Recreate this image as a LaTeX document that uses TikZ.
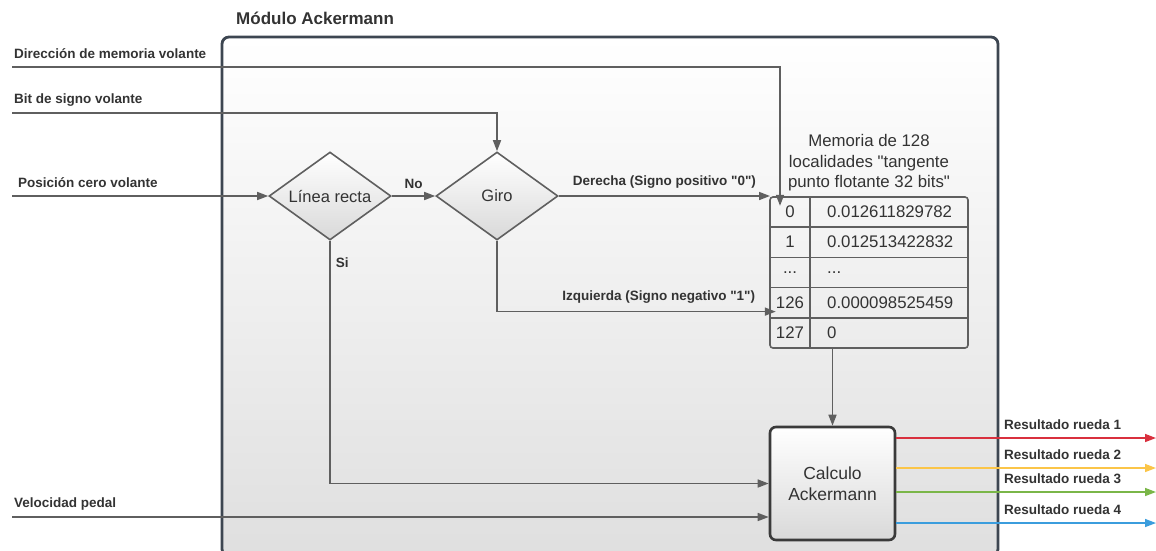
\documentclass[tikz,border=0pt]{standalone}
\usepackage{fontspec}
\setmainfont{Liberation Sans}[Ligatures=TeXOff]
\usetikzlibrary{positioning}
\usetikzlibrary{shapes.geometric}
\usetikzlibrary{arrows.meta}

\definecolor{wiregray}{HTML}{5F5F5F}
\definecolor{framegray}{HTML}{3D4651}
\definecolor{boxgray}{HTML}{3A3A3A}
\definecolor{inkgray}{HTML}{333333}
\definecolor{rueda1}{HTML}{D9303E}
\definecolor{rueda2}{HTML}{FBC548}
\definecolor{rueda3}{HTML}{7AB648}
\definecolor{rueda4}{HTML}{3B9DDD}
\newcommand{\rowgap}{...}

\begin{document}
\begin{tikzpicture}
    [
    x=1pt, y=-1pt,
    node distance=167pt,
    on grid,
    wire/.style={draw=wiregray, line width=1.6pt, -{Triangle[length=11pt,width=8pt]}},
    sig/.style={font=\bfseries\fontsize{13.5}{15}\selectfont, text=inkgray, inner sep=0pt},
    decision/.style={diamond, aspect=1.4, draw=wiregray, line width=1.6pt, top color=white, bottom color=gray!30,
        minimum width=122pt, minimum height=88pt, inner sep=0pt, text=inkgray, font=\fontsize{16.5}{19}\selectfont},
    block/.style={rectangle, rounded corners=6pt, draw=boxgray, line width=2.6pt, top color=white, bottom color=gray!30,
        minimum width=125pt, minimum height=113pt, align=center, text=inkgray, font=\fontsize{17.5}{21}\selectfont},
    cell/.style={inner sep=0pt, text=inkgray, font=\fontsize{16.8}{19}\selectfont},
    memline/.style={draw=wiregray, line width=1.6pt},
    ]

    \useasboundingbox (0,0) rectangle (1156,550);

    \draw[framegray, line width=2.8pt, rounded corners=7pt, top color=white, bottom color=gray!25]
        (222,37) rectangle (998,556);
    \node[anchor=west, inner sep=0pt, font=\bfseries\fontsize{17}{19}\selectfont, text=inkgray] (mod_title) at (236,18) {Módulo Ackermann};

    \node[decision] (dec_recta) at (330,196) {Línea recta};
    \node[decision, right=of dec_recta] (dec_giro) {Giro};

    \coordinate (mem_nw) at (770,197);
    \coordinate (mem_se) at (968,348);
    \foreach \i/\v [count=\r from 0] in {0/0.012611829782, 1/0.012513422832, \rowgap/\rowgap, 126/0.000098525459, 127/0} {
        \node[cell] (idx_\r) at (790,212+30.2*\r) {\i};
        \node[cell, anchor=west] (val_\r) at (827,212+30.2*\r) {\v};
    }
    \foreach \r in {1,...,4}
        \draw[memline] (770,197+30.2*\r) -- (968,197+30.2*\r);
    \draw[memline] (810,197) -- (810,348);
    \draw[memline, rounded corners=3pt] (mem_nw) rectangle (mem_se);
    \node[align=center, text=inkgray, font=\fontsize{16.8}{20.5}\selectfont] (mem_title) at (869,163)
        {Memoria de 128\\localidades "tangente\\punto flotante 32 bits"};

    \node[block] (blk_calculo) at (832.5,483.5) {Calculo\\Ackermann};

    \coordinate (in_dir) at (12,67);
    \coordinate (in_bit) at (12,113);
    \coordinate (in_pos) at (12,196);
    \coordinate (in_vel) at (12,517);
    \node[sig, anchor=west] (lbl_dir) at (14,54) {Dirección de memoria volante};
    \node[sig, anchor=west] (lbl_bit) at (14,100) {Bit de signo volante};
    \node[sig, anchor=west] (lbl_pos) at (18,183) {Posición cero volante};
    \node[sig, anchor=west] (lbl_vel) at (14,504) {Velocidad pedal};

    \draw[wire] (in_dir) -| ([xshift=-10pt]idx_0.north);
    \draw[wire] (in_bit) -| (dec_giro.north);
    \draw[wire] (in_pos) -- (dec_recta.west);
    \draw[wire] (in_vel) -- (in_vel -| blk_calculo.west);

    \draw[wire] (dec_recta) -- node[sig, above=7pt] {No} (dec_giro);
    \draw[wire] (dec_recta.south) |- node[sig, pos=0.045, right=5pt] {Si} (blk_calculo.west);
    \draw[wire] (dec_giro.east) -- node[sig, above=7pt] {Derecha (Signo positivo "0")} (dec_giro.east -| mem_nw);
    \draw[wire] (dec_giro.south) |- node[sig, pos=0.79, above=7pt] {Izquierda (Signo negativo "1")} ([yshift=-9pt]idx_3.west);
    \draw[wire] (blk_calculo.north |- mem_se) -- (blk_calculo.north);

    \foreach \n/\y/\col in {1/438/rueda1, 2/468/rueda2, 3/492/rueda3, 4/523/rueda4} {
        \coordinate (out_\n) at (1156,\y);
        \draw[wire, draw=\col, line width=1.4pt] (blk_calculo.east |- out_\n) -- (out_\n);
        \node[sig, anchor=west] (lbl_out_\n) at (1004,\y-13) {Resultado rueda \n};
    }
\end{tikzpicture}
\end{document}
